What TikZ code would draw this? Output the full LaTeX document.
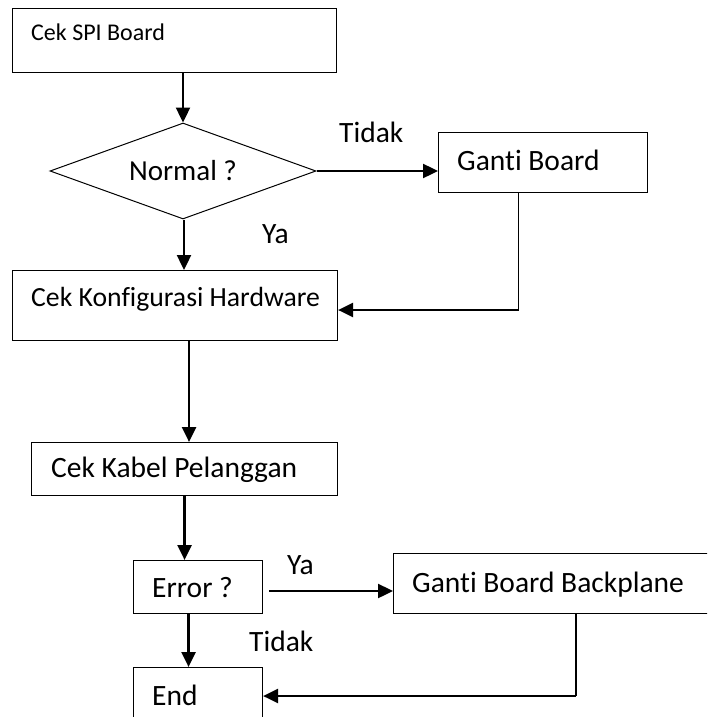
\documentclass[tikz,border=0pt]{standalone}
\usepackage{fontspec}
\setmainfont{Carlito}[Ligatures=NoCommon]
\usetikzlibrary{arrows.meta,shapes.geometric}

\tikzset{
  box/.style={draw, line width=1.1pt, rectangle, anchor=north west, inner sep=0pt},
  lbl/.style={anchor=base west, inner sep=0pt, font=\fontsize{29.5}{34}\selectfont},
  flow/.style={line width=2.4pt, -{Triangle[length=15pt,width=14pt]}},
  thin/.style={line width=1.1pt},
}

\begin{document}
\begin{tikzpicture}[x=1pt,y=-1pt]
\useasboundingbox (0,0) rectangle (707,717);
\clip (0,0) rectangle (707,717);

% process boxes
\node[box, minimum width=324pt, minimum height=64pt] (b1) at (12,8) {};
\node[box, minimum width=209pt, minimum height=60pt] (gb) at (438,132) {};
\node[box, minimum width=325pt, minimum height=70pt] (konf) at (12,270) {};
\node[box, minimum width=306pt, minimum height=53pt] (kabel) at (31,442) {};
\node[box, minimum width=129pt, minimum height=53pt] (err) at (133,560) {};
\node[box, minimum width=320pt, minimum height=60pt] (bp) at (393,553) {};
\node[box, minimum width=129pt, minimum height=70pt] (end) at (133,667) {};

% decision
\node[draw, line width=1pt, shape=diamond, aspect=2.77, inner sep=0pt,
      minimum width=266pt, minimum height=96pt,
      font=\fontsize{29}{34}\selectfont] (dia) at (183,171) {Normal ?};

% box texts
\node[lbl, font=\fontsize{24}{28}\selectfont] (t1) at (31,41) {Cek SPI Board};
\node[lbl] (tgb) at (457,170) {Ganti Board};
\node[lbl, font=\fontsize{27.7}{32}\selectfont] (tkonf) at (31,306) {Cek Konfigurasi Hardware};
\node[lbl] (tkabel) at (51,477) {Cek Kabel Pelanggan};
\node[lbl] (terr) at (152,597) {Error ?};
\node[lbl] (tbp) at (412,592) {Ganti Board Backplane};
\node[lbl] (tend) at (152,705) {End};

% branch labels
\node[lbl] (tidak1) at (339,142) {Tidak};
\node[lbl] (ya1) at (262,243) {Ya};
\node[lbl] (ya2) at (287,574) {Ya};
\node[lbl] (tidak2) at (249,651) {Tidak};

% main flow
\draw[flow] (dia.north |- b1.south) -- (dia.north);
\draw[flow] ([xshift=1pt]dia.south) -- ([xshift=1pt]dia.south |- konf.north);
\draw[flow] ([xshift=14pt]konf.south) -- ([xshift=14pt]konf.south |- kabel.north);
\draw[flow] (kabel.south) -- (kabel.south |- err.north);
\draw[flow] ([xshift=-9.5pt]err.south) -- ([xshift=-9.5pt]err.south |- end.north);

% branch: Normal ? -> Tidak
\draw[flow] (dia.east) -- (dia.east -| gb.west);
\coordinate (c1) at ([xshift=-24.5pt]gb.south |- 0,310);
\draw[thin] ([xshift=-24.5pt]gb.south) -- (c1);
\draw[flow] (c1) -- (c1 -| konf.east);

% branch: Error ? -> Ya
\coordinate (c2) at ([xshift=6pt]err.east |- 0,591);
\draw[flow] (c2) -- (c2 -| bp.west);
\coordinate (c3) at (576,696);
\draw[thin] (c3 |- bp.south) -- (c3);
\draw[flow] (c3) -- (c3 -| end.east);

\end{tikzpicture}
\end{document}
